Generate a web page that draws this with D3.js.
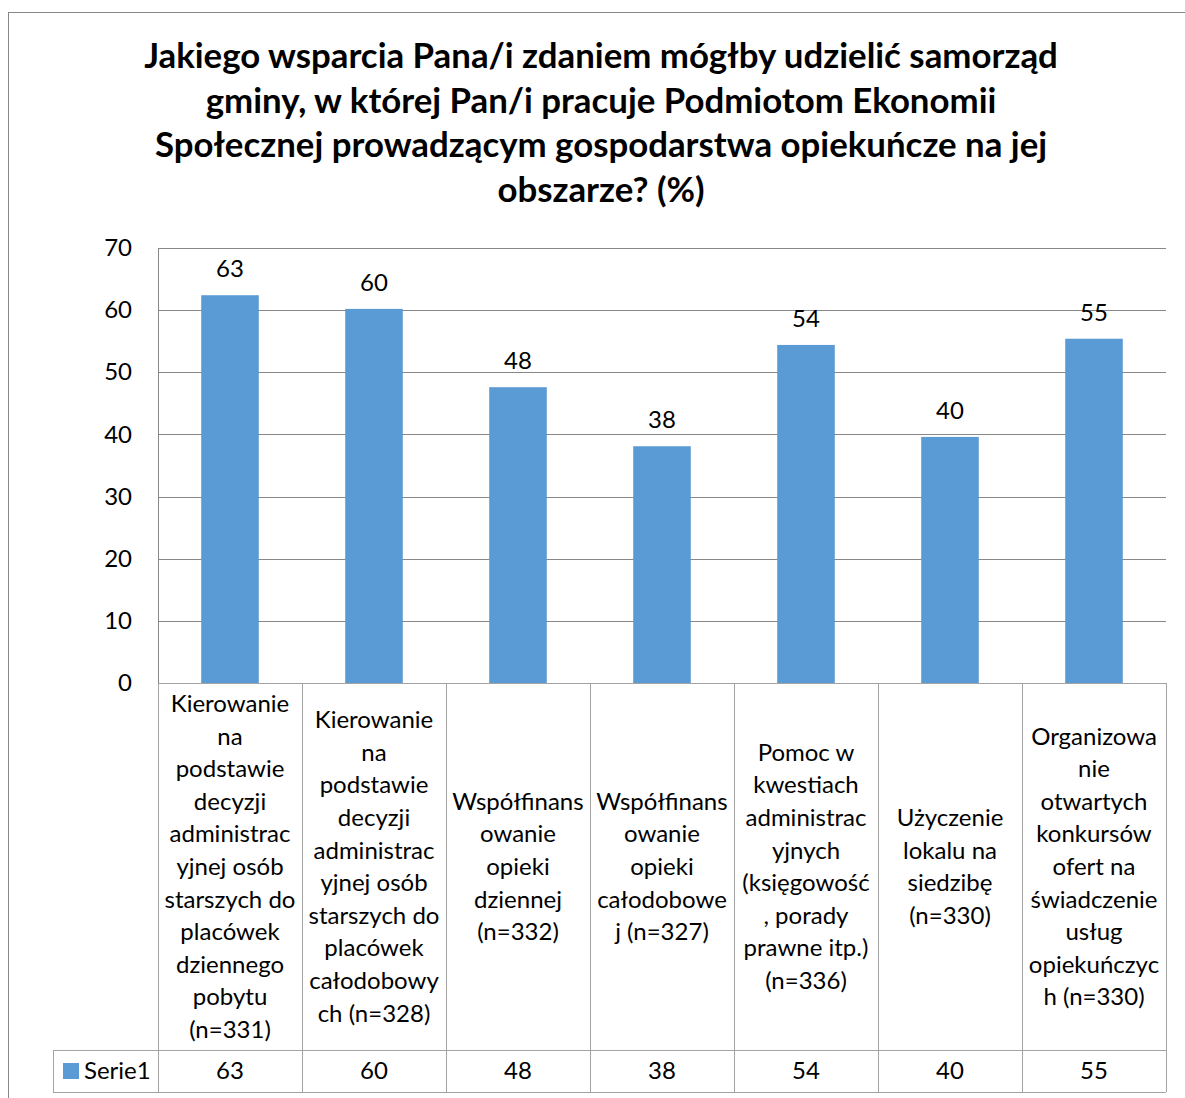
<!DOCTYPE html>
<html>
<head>
<meta charset="utf-8">
<script src="https://cdn.jsdelivr.net/npm/d3@7"></script>
<style>
  html, body { margin: 0; padding: 0; background: #fff; }
  svg { display: block; font-family: Lato, "Open Sans", sans-serif; }
</style>
</head>
<body>
<svg id="chart"></svg>
<script>
// Column chart with an Excel-style data table underneath.

const TITLE_LINES = [
  "Jakiego wsparcia Pana/i zdaniem mógłby udzielić samorząd",
  "gminy, w której Pan/i pracuje Podmiotom Ekonomii",
  "Społecznej prowadzącym gospodarstwa opiekuńcze na jej",
  "obszarze? (%)"
];

// category labels, wrapped the way the original wraps them
const CATEGORIES = [
  ["Kierowanie", "na", "podstawie", "decyzji", "administrac", "yjnej osób", "starszych do", "placówek", "dziennego", "pobytu", "(n=331)"],
  ["Kierowanie", "na", "podstawie", "decyzji", "administrac", "yjnej osób", "starszych do", "placówek", "całodobowy", "ch (n=328)"],
  ["Współfinans", "owanie", "opieki", "dziennej", "(n=332)"],
  ["Współfinans", "owanie", "opieki", "całodobowe", "j (n=327)"],
  ["Pomoc w", "kwestiach", "administrac", "yjnych", "(księgowość", ", porady", "prawne itp.)", "(n=336)"],
  ["Użyczenie", "lokalu na", "siedzibę", "(n=330)"],
  ["Organizowa", "nie", "otwartych", "konkursów", "ofert na", "świadczenie", "usług", "opiekuńczyc", "h (n=330)"]
];

// bar heights (unrounded) and the printed labels
const VALUES = [62.4, 60.2, 47.6, 38.1, 54.4, 39.6, 55.4];
const LABELS = [63, 60, 48, 38, 54, 40, 55];
const SERIES_NAME = "Serie1";
const Y_TICKS = [0, 10, 20, 30, 40, 50, 60, 70];

const W = 1185, H = 1098;
const M = { top: 248, right: 19, left: 158 };
const plotBottom = 683;
const tableCatBottom = 1050;
const tableBottom = 1092;
const legendLeft = 53;

const BLUE = "#5b9bd5";
const GRID = "#888888";
const LINE = "#a3a3a3";
const FONT_PX = 24;

const svg = d3.select("#chart").attr("width", W).attr("height", H);

// outer chart border (runs off the right and bottom of the picture)
svg.append("rect")
  .attr("x", 8.5).attr("y", 12.5)
  .attr("width", W).attr("height", H)
  .attr("fill", "#fff")
  .attr("stroke", GRID).attr("stroke-width", 1);

// title
const title = svg.append("text")
  .attr("text-anchor", "middle")
  .attr("font-weight", 700)
  .attr("font-size", 34.8)
  .attr("fill", "#000");
TITLE_LINES.forEach((t, i) => {
  title.append("tspan")
    .attr("x", 601)
    .attr("y", 68 + i * 44.7)
    .text(t);
});

// scales
const x = d3.scaleBand()
  .domain(d3.range(CATEGORIES.length))
  .range([M.left, W - M.right])
  .padding(0);

const y = d3.scaleLinear()
  .domain([0, 70])
  .range([plotBottom, M.top]);

// gridlines
svg.append("g")
  .attr("transform", `translate(${M.left},0)`)
  .call(d3.axisLeft(y).tickValues(Y_TICKS).tickSize(-(W - M.right - M.left)).tickFormat(""))
  .call(g => g.select(".domain").remove())
  .call(g => g.selectAll("line").attr("stroke", GRID).attr("shape-rendering", "crispEdges"));

// y axis labels
svg.append("g")
  .attr("transform", `translate(${M.left},0)`)
  .call(d3.axisLeft(y).tickValues(Y_TICKS).tickSize(0).tickPadding(26))
  .call(g => g.select(".domain").attr("stroke", GRID).attr("shape-rendering", "crispEdges"))
  .call(g => g.selectAll("text")
    .attr("font-family", "Lato, 'Open Sans', sans-serif")
    .attr("font-size", FONT_PX)
    .attr("fill", "#000"));

// bars
const barW = x.bandwidth() * 0.4;
svg.append("g").selectAll("rect")
  .data(VALUES)
  .join("rect")
  .attr("x", (d, i) => x(i) + (x.bandwidth() - barW) / 2)
  .attr("y", d => y(d))
  .attr("width", barW)
  .attr("height", d => y(0) - y(d))
  .attr("fill", BLUE);

// value labels above bars
svg.append("g").selectAll("text")
  .data(VALUES)
  .join("text")
  .attr("x", (d, i) => x(i) + x.bandwidth() / 2)
  .attr("y", d => y(d) - 18)
  .attr("text-anchor", "middle")
  .attr("font-size", FONT_PX)
  .attr("fill", "#000")
  .text((d, i) => LABELS[i]);

// ---- data table ----
const tbl = svg.append("g")
  .attr("stroke", LINE)
  .attr("stroke-width", 1)
  .attr("shape-rendering", "crispEdges");

// baseline of plot / top of table
tbl.append("line")
  .attr("x1", M.left).attr("x2", W - M.right)
  .attr("y1", plotBottom).attr("y2", plotBottom);
// row separators
[tableCatBottom, tableBottom].forEach(yy => {
  tbl.append("line")
    .attr("x1", legendLeft).attr("x2", W - M.right)
    .attr("y1", yy).attr("y2", yy);
});
tbl.append("line")
  .attr("x1", legendLeft).attr("x2", legendLeft)
  .attr("y1", tableCatBottom).attr("y2", tableBottom);
// column separators
d3.range(CATEGORIES.length + 1).forEach(i => {
  const xx = i < CATEGORIES.length ? x(i) : W - M.right;
  tbl.append("line")
    .attr("x1", xx).attr("x2", xx)
    .attr("y1", plotBottom).attr("y2", tableBottom);
});

// category labels, centred vertically in the cell
const lineH = 32.6;
const catMid = (plotBottom + tableCatBottom) / 2;
CATEGORIES.forEach((lines, i) => {
  const t = svg.append("text")
    .attr("text-anchor", "middle")
    .attr("font-size", FONT_PX)
    .attr("fill", "#000");
  const y0 = catMid - (lines.length - 1) * lineH / 2;
  lines.forEach((ln, j) => {
    t.append("tspan")
      .attr("x", x(i) + x.bandwidth() / 2)
      .attr("y", y0 + j * lineH)
      .attr("dy", "0.35em")
      .text(ln);
  });
});

// series row
const rowMid = (tableCatBottom + tableBottom) / 2;
svg.append("rect")
  .attr("x", 63).attr("y", rowMid - 8)
  .attr("width", 16).attr("height", 16)
  .attr("fill", BLUE);
svg.append("text")
  .attr("x", 84).attr("y", rowMid)
  .attr("dy", "0.35em")
  .attr("font-size", FONT_PX)
  .attr("fill", "#000")
  .text(SERIES_NAME);

svg.append("g").selectAll("text")
  .data(LABELS)
  .join("text")
  .attr("x", (d, i) => x(i) + x.bandwidth() / 2)
  .attr("y", rowMid)
  .attr("dy", "0.35em")
  .attr("text-anchor", "middle")
  .attr("font-size", FONT_PX)
  .attr("fill", "#000")
  .text(d => d);
</script>
</body>
</html>
